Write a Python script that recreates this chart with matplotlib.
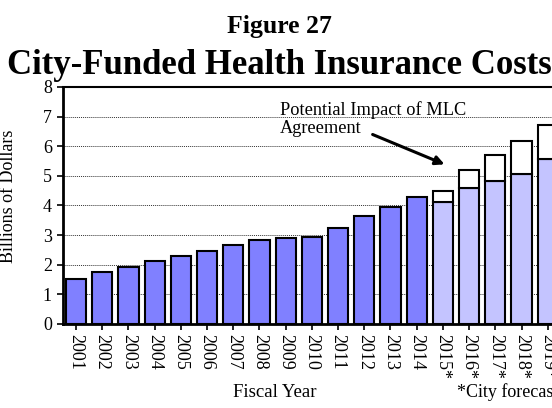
import matplotlib
matplotlib.use("Agg")
import matplotlib.pyplot as plt
import numpy as np

plt.rcParams['font.family'] = ['Liberation Serif', 'DejaVu Serif']

years = ['2001', '2002', '2003', '2004', '2005', '2006', '2007', '2008', '2009',
         '2010', '2011', '2012', '2013', '2014', '2015*', '2016*', '2017*',
         '2018*', '2019*']
# actual spending, billions
actual = [1.53, 1.75, 1.93, 2.11, 2.29, 2.47, 2.65, 2.85, 2.91,
          2.94, 3.24, 3.66, 3.95, 4.28]
# city forecast without MLC savings and potential impact on top
forecast = [4.13, 4.59, 4.84, 5.05, 5.58]
mlc_impact = [0.36, 0.62, 0.86, 1.13, 1.13]

fig = plt.figure(figsize=(5.52, 4.08), dpi=100)
ax = fig.add_axes([0.114, 0.206, 0.902, 0.581])

pos = np.arange(len(years))
n_act = len(actual)
ax.bar(pos[:n_act], actual, width=0.77, color='#8080ff', edgecolor='black',
       linewidth=1.5, zorder=3)
ax.bar(pos[n_act:], forecast, width=0.77, color='#c4c4ff', edgecolor='black',
       linewidth=1.5, zorder=3)
ax.bar(pos[n_act:], mlc_impact, bottom=forecast, width=0.77, color='white',
       edgecolor='black', linewidth=1.5, zorder=3)

ax.set_xlim(-0.5, len(years) - 0.5)
ax.set_ylim(0, 8)
ax.set_yticks(range(0, 9))
ax.set_xticks(pos)
ax.set_xticklabels(years, rotation=270, fontsize=13)
ax.tick_params(axis='y', labelsize=13, direction='out', length=4, width=1.2,
               pad=4)
ax.tick_params(axis='x', direction='out', length=4, width=1.2, pad=3)
for y in range(1, 8):
    ax.axhline(y, color='#333333', linestyle=(0, (1, 1)), linewidth=0.7, zorder=1)

ax.spines['right'].set_visible(False)
ax.spines['left'].set_linewidth(2)
ax.spines['bottom'].set_linewidth(2)
ax.spines['top'].set_linewidth(1.5)

fig.text(0.015, 0.52, 'Billions of Dollars', fontsize=13, rotation=90,
         ha='center', va='center')
fig.text(0.498, 0.028, 'Fiscal Year', fontsize=13.5, ha='center',
         va='baseline')
fig.text(0.828, 0.028, '*City forecast', fontsize=13, ha='left',
         va='baseline')

ax.annotate('', xy=(14.16, 5.35), xytext=(11.22, 6.43),
            arrowprops=dict(arrowstyle='-|>', color='black', lw=2.2,
                            mutation_scale=13))
ax.text(7.79, 6.92, 'Potential Impact of MLC\nAgreement', fontsize=13.2,
        ha='left', va='center', linespacing=1.12)

fig.text(0.507, 0.918, 'Figure 27', fontsize=18.5, fontweight='bold',
         ha='center', va='baseline')
fig.text(0.507, 0.819, 'City-Funded Health Insurance Costs', fontsize=25,
         fontweight='bold', ha='center', va='baseline')

fig.savefig('out.png', dpi=100)
